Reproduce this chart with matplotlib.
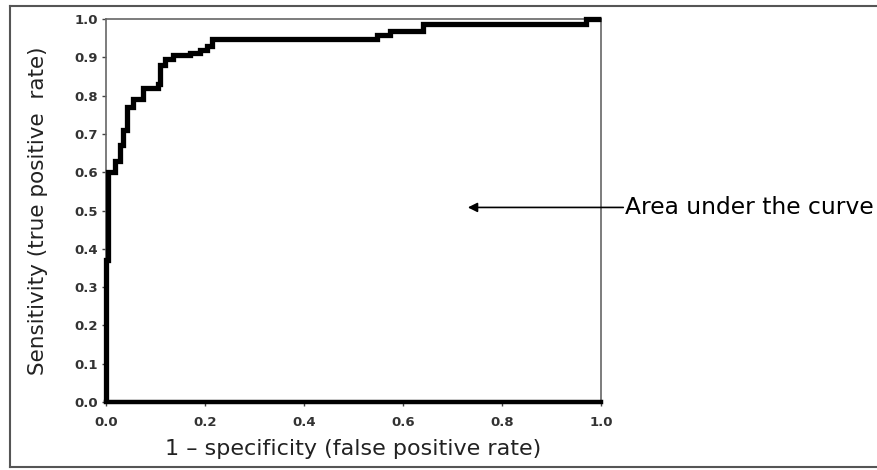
"""
ROC curve: sensitivity vs 1 - specificity, with an "Area under the curve" callout.
Writes out.png (878x470).
"""

import numpy as np
import matplotlib
matplotlib.use("Agg")
import matplotlib.pyplot as plt
from matplotlib.lines import Line2D

# ROC operating points (step curve)
fpr = [0.0, 0.0, 0.004, 0.004, 0.018, 0.018, 0.028, 0.028, 0.035, 0.035,
       0.042, 0.042, 0.055, 0.055, 0.075, 0.075, 0.105, 0.105, 0.11, 0.11,
       0.12, 0.12, 0.135, 0.135, 0.17, 0.17, 0.19, 0.19, 0.205, 0.205,
       0.215, 0.215, 0.547, 0.547, 0.574, 0.574, 0.64, 0.64, 0.97, 0.97, 1.0]
tpr = [0.0, 0.37, 0.37, 0.60, 0.60, 0.63, 0.63, 0.67, 0.67, 0.71,
       0.71, 0.77, 0.77, 0.79, 0.79, 0.82, 0.82, 0.83, 0.83, 0.88,
       0.88, 0.895, 0.895, 0.905, 0.905, 0.91, 0.91, 0.92, 0.92, 0.93,
       0.93, 0.948, 0.948, 0.958, 0.958, 0.969, 0.969, 0.987, 0.987, 1.0, 1.0]

x_ticks = [0.0, 0.2, 0.4, 0.6, 0.8, 1.0]
y_ticks = [0.0, 0.1, 0.2, 0.3, 0.4, 0.5, 0.6, 0.7, 0.8, 0.9, 1.0]

W, H = 878, 470
fig = plt.figure(figsize=(W / 100, H / 100), dpi=100)
ax = fig.add_axes([106 / W, 1 - 402 / H, (601 - 106) / W, (402 - 19) / H])

ax.plot(fpr, tpr, color="black", lw=3.8, solid_joinstyle="miter",
        solid_capstyle="butt", clip_on=False, zorder=3)

ax.set_xlim(0, 1)
ax.set_ylim(0, 1)
ax.set_xticks(x_ticks)
ax.set_yticks(y_ticks)
ax.set_xticklabels([f"{v:.1f}" for v in x_ticks])
ax.set_yticklabels([f"{v:.1f}" for v in y_ticks])
ax.tick_params(direction="out", length=3, width=1, colors="#444444",
               labelsize=9.5, pad=3)
ax.tick_params(axis="x", pad=7)
for lab in ax.get_xticklabels() + ax.get_yticklabels():
    lab.set_color("#333333")
    lab.set_fontweight("bold")

for side in ("top", "right", "left"):
    ax.spines[side].set_color("#666666")
    ax.spines[side].set_linewidth(1.2)
ax.spines["bottom"].set_color("black")
ax.spines["bottom"].set_linewidth(3.2)

ax.set_ylabel("Sensitivity (true positive  rate)", fontsize=15.5,
              color="#222222", labelpad=19)
ax.set_xlabel("1 \u2013 specificity (false positive rate)", fontsize=16,
              color="#222222", labelpad=7)

# callout
ax.annotate("", xy=(0.731, 0.508), xytext=(1.045, 0.508),
            arrowprops=dict(arrowstyle="-|>", color="black", lw=1.2,
                            mutation_scale=14, shrinkA=0, shrinkB=0),
            annotation_clip=False)
ax.text(1.048, 0.508, "Area under the curve", fontsize=16.8,
        color="black", va="center", ha="left", transform=ax.transData,
        clip_on=False)

# outer frame (right edge falls outside the picture)
for xs, ys in (([10 / W, 1.0], [1 - 6 / H] * 2),
               ([10 / W] * 2, [1 - 6 / H, 1 - 467 / H]),
               ([10 / W, 1.0], [1 - 467 / H] * 2)):
    fig.add_artist(Line2D(xs, ys, color="#555555", lw=1.5,
                          transform=fig.transFigure))

fig.savefig("out.png", dpi=100)
